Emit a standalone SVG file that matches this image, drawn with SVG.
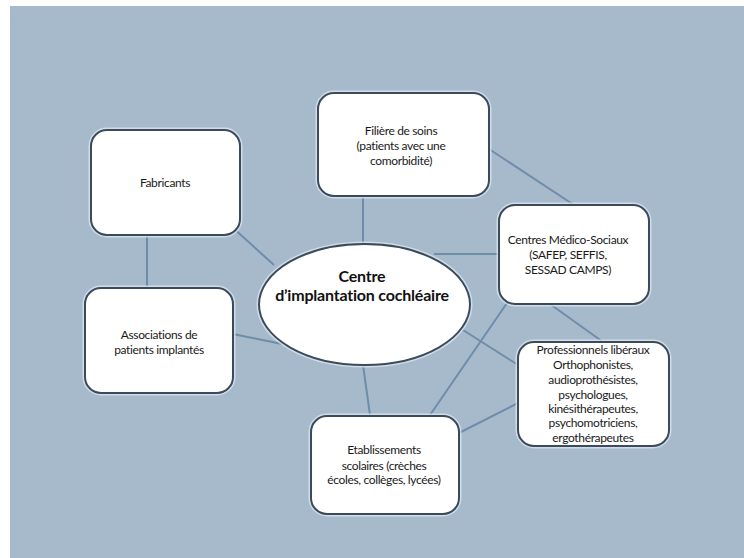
<svg xmlns="http://www.w3.org/2000/svg" width="744" height="558" viewBox="0 0 744 558">
<style>
.bg{fill:#a7bacc}
.conn line{stroke:#6f8dab;stroke-width:2}
.halo{fill:none;stroke:#dbe5ee;stroke-width:5;opacity:0.8}
.box{fill:#ffffff;stroke:#3b4b5b;stroke-width:2}
.t{font-family:Lato,"Open Sans","Liberation Sans",sans-serif;font-size:12px;letter-spacing:-0.35px;fill:#1a1a1a;text-anchor:middle}
.tb{font-family:Lato,"Open Sans","Liberation Sans",sans-serif;font-size:16px;font-weight:bold;letter-spacing:-0.2px;fill:#111;text-anchor:middle}
</style>
<rect x="0" y="0" width="744" height="558" fill="#ffffff"/>
<rect class="bg" x="10" y="6" width="734" height="552"/>
<g id="connectors" class="conn">
<line x1="147" y1="235" x2="147" y2="288"/>
<line x1="232" y1="227" x2="274" y2="265"/>
<line x1="363" y1="196" x2="363" y2="244"/>
<line x1="489" y1="149" x2="574" y2="205"/>
<line x1="434" y1="254" x2="499" y2="254"/>
<line x1="550" y1="304" x2="603" y2="342"/>
<line x1="507" y1="303" x2="430" y2="415"/>
<line x1="463" y1="330" x2="518" y2="365"/>
<line x1="363" y1="365" x2="370" y2="415"/>
<line x1="459" y1="433" x2="518" y2="403"/>
<line x1="233" y1="334" x2="282" y2="344"/>
</g>
<g id="fabricants">
<rect class="halo" x="91" y="130" width="149" height="105" rx="16"/>
<rect class="box" x="91" y="130" width="149" height="105" rx="16"/>
<text class="t" x="165" y="187">Fabricants</text>
</g>
<g id="associations">
<rect class="halo" x="85" y="288" width="148" height="105" rx="16"/>
<rect class="box" x="85" y="288" width="148" height="105" rx="16"/>
<text class="t" x="159" y="339">Associations de</text>
<text class="t" x="159" y="354">patients implantés</text>
</g>
<g id="filiere">
<rect class="halo" x="318" y="93" width="171" height="103" rx="16"/>
<rect class="box" x="318" y="93" width="171" height="103" rx="16"/>
<text class="t" x="401" y="135">Filière de soins</text>
<text class="t" x="401" y="150">(patients avec une</text>
<text class="t" x="401" y="165">comorbidité)</text>
</g>
<g id="centres">
<rect class="halo" x="499" y="205" width="150" height="99" rx="16"/>
<rect class="box" x="499" y="205" width="150" height="99" rx="16"/>
<text class="t" x="568" y="244">Centres Médico-Sociaux</text>
<text class="t" x="568" y="259">(SAFEP, SEFFIS,</text>
<text class="t" x="568" y="274">SESSAD CAMPS)</text>
</g>
<g id="professionnels">
<rect class="halo" x="518" y="342" width="151" height="104" rx="16"/>
<rect class="box" x="518" y="342" width="151" height="104" rx="16"/>
<text class="t" x="593" y="354">Professionnels libéraux</text>
<text class="t" x="593" y="369">Orthophonistes,</text>
<text class="t" x="593" y="384">audioprothésistes,</text>
<text class="t" x="593" y="399">psychologues,</text>
<text class="t" x="593" y="413">kinésithérapeutes,</text>
<text class="t" x="593" y="427">psychomotriciens,</text>
<text class="t" x="593" y="442">ergothérapeutes</text>
</g>
<g id="etablissements">
<rect class="halo" x="311" y="416" width="148" height="98" rx="16"/>
<rect class="box" x="311" y="416" width="148" height="98" rx="16"/>
<text class="t" x="384" y="454">Etablissements</text>
<text class="t" x="384" y="469.5">scolaires  (crèches</text>
<text class="t" x="384" y="484">écoles, collèges, lycées)</text>
</g>
<g id="centre">
<ellipse class="halo" cx="364.5" cy="304.5" rx="105.5" ry="60.5"/>
<ellipse class="box" cx="364.5" cy="304.5" rx="105.5" ry="60.5"/>
<text class="tb" x="362" y="282">Centre</text>
<text class="tb" x="362" y="301">d’implantation cochléaire</text>
</g>
</svg>
